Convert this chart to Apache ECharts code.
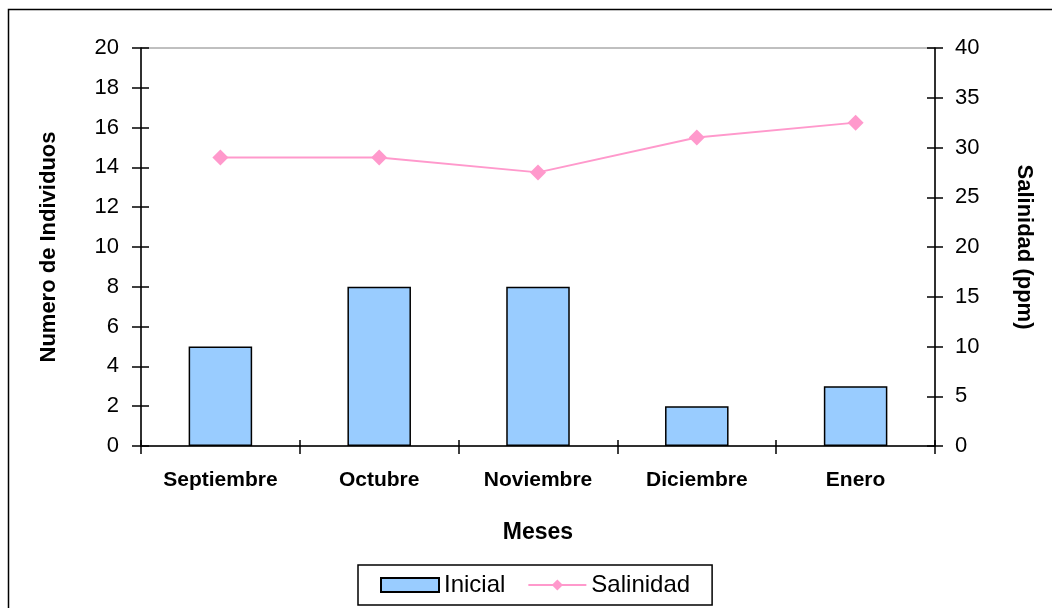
<!DOCTYPE html>
<html>
<head>
<meta charset="utf-8">
<script src="https://cdn.jsdelivr.net/npm/echarts@6/dist/echarts.min.js"></script>
<style>
  html, body { margin: 0; padding: 0; background: #fff; }
  #chart { width: 1052px; height: 608px; }
</style>
</head>
<body>
<div id="chart"></div>
<script>
const months = ["Septiembre", "Octubre", "Noviembre", "Diciembre", "Enero"];
const inicial = [5, 8, 8, 2, 3];
const salinidad = [29, 29, 27.5, 31, 32.5];

const font = "Liberation Sans, Arial, sans-serif";
const myChart = echarts.init(document.getElementById("chart"));

// ejes duplicados solo para que las marcas crucen la línea del eje
const tickOnly = (pos, max, interval, inside) => ({
  type: "value",
  position: pos,
  min: 0,
  max: max,
  interval: interval,
  axisLine: { show: false },
  axisTick: { show: true, inside: inside, length: 8, lineStyle: { color: "#000", width: 1.5 } },
  axisLabel: { show: false },
  splitLine: { show: false },
});

myChart.setOption({
  animation: false,
  textStyle: { fontFamily: font },
  graphic: [
    {
      type: "rect",
      shape: { x: 8.5, y: 9.5, width: 1100, height: 700 },
      style: { fill: "none", stroke: "#000", lineWidth: 1.5 },
    },
  ],
  grid: {
    left: 141,
    right: 117,
    top: 48,
    bottom: 162,
    show: true,
    borderColor: "#808080",
    borderWidth: 1,
  },
  legend: {
    left: 358,
    top: 565,
    padding: [8, 22, 8, 22],
    borderColor: "#000",
    borderWidth: 1.5,
    itemWidth: 58,
    itemHeight: 14,
    itemGap: 22,
    textStyle: { fontSize: 24, color: "#000", fontFamily: font },
    data: [{ name: "Inicial", icon: "rect" }, { name: "Salinidad" }],
  },
  xAxis: [
    {
      type: "category",
      data: months,
      name: "Meses",
      nameLocation: "middle",
      nameGap: 75,
      nameTextStyle: { fontSize: 23, fontWeight: "bold", color: "#000" },
      axisLine: { lineStyle: { color: "#000", width: 1.5 } },
      axisTick: { show: true, length: 8, lineStyle: { color: "#000", width: 1.5 } },
      axisLabel: { fontSize: 21, fontWeight: "bold", color: "#000", margin: 24, interval: 0 },
    },
    {
      type: "category",
      data: months,
      position: "bottom",
      axisLine: { show: false },
      axisTick: { show: true, inside: true, length: 6, lineStyle: { color: "#000", width: 1.5 } },
      axisLabel: { show: false },
    },
  ],
  yAxis: [
    {
      type: "value",
      position: "left",
      min: 0,
      max: 20,
      interval: 2,
      name: "Numero de Individuos",
      nameLocation: "middle",
      nameGap: 81,
      nameTextStyle: { fontSize: 22, fontWeight: "bold", color: "#000" },
      axisLine: { show: true, lineStyle: { color: "#000", width: 1.5 } },
      axisTick: { show: true, length: 9, lineStyle: { color: "#000", width: 1.5 } },
      axisLabel: { fontSize: 22, color: "#000", margin: 22 },
      splitLine: { show: false },
    },
    {
      type: "value",
      position: "right",
      min: 0,
      max: 40,
      interval: 5,
      name: "Salinidad (ppm)",
      nameLocation: "middle",
      nameGap: 78,
      nameRotate: -90,
      nameTextStyle: { fontSize: 22, fontWeight: "bold", color: "#000" },
      axisLine: { show: true, lineStyle: { color: "#000", width: 1.5 } },
      axisTick: { show: true, length: 8, lineStyle: { color: "#000", width: 1.5 } },
      axisLabel: { fontSize: 22, color: "#000", margin: 20 },
      splitLine: { show: false },
    },
    tickOnly("left", 20, 2, true),
    tickOnly("right", 40, 5, true),
  ],
  series: [
    {
      name: "Inicial",
      type: "bar",
      data: inicial,
      xAxisIndex: 0,
      yAxisIndex: 0,
      barWidth: "40%",
      itemStyle: { color: "#99CCFF", borderColor: "#000", borderWidth: 1.5 },
    },
    {
      name: "Salinidad",
      type: "line",
      data: salinidad,
      xAxisIndex: 0,
      yAxisIndex: 1,
      symbol: "diamond",
      symbolSize: 16,
      lineStyle: { color: "#FF99CC", width: 2 },
      itemStyle: { color: "#FF99CC" },
    },
  ],
});
</script>
</body>
</html>
